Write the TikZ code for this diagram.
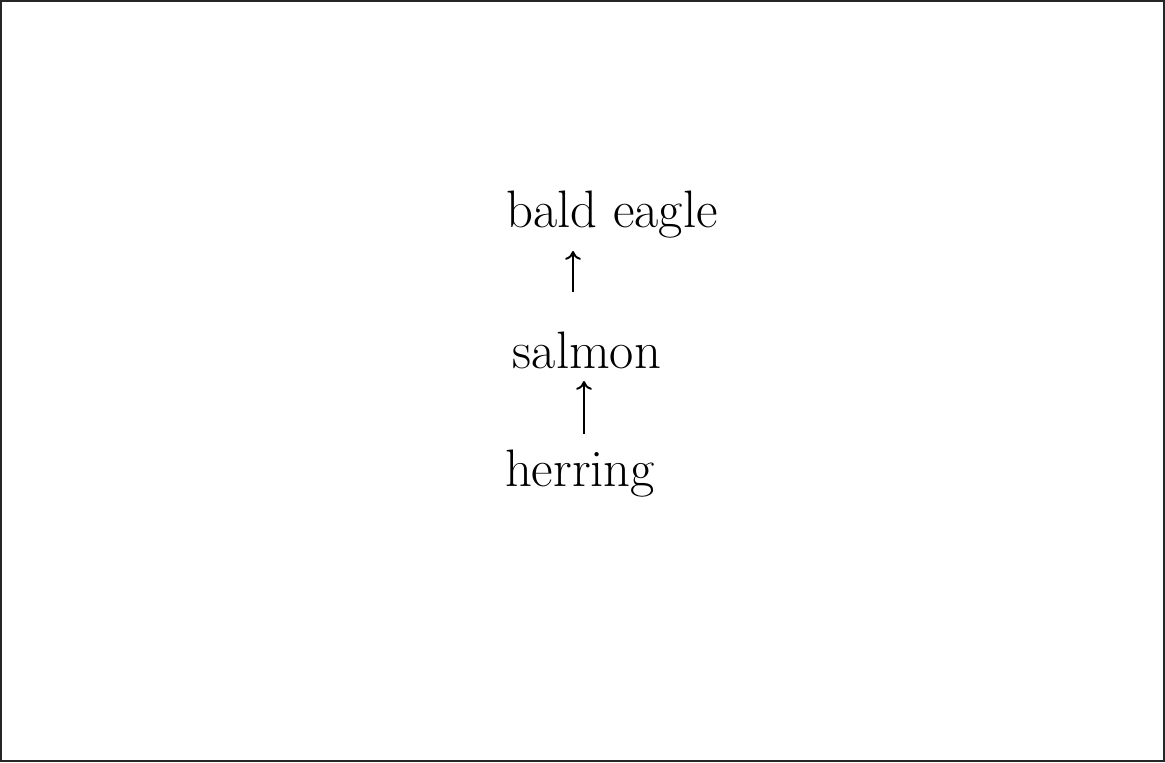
\documentclass[tikz,border=0pt]{standalone}
\usepackage{fontspec}
\setmainfont{Latin Modern Roman}
\usetikzlibrary{arrows.meta}
\begin{document}
\begin{tikzpicture}[x=0.02cm,y=-0.02cm,
  word/.style={inner sep=0pt, font=\fontsize{30}{36}\selectfont, text=black},
  uparrow/.style={draw=black, line width=1.1pt, -{To[length=5pt,width=9pt]}}]
\useasboundingbox (0,0) rectangle (1165,762);
\draw[line width=1.4pt, draw=black!85] (1,1) rectangle (1164,761);
\node[word] (eagle) at (612,215) {bald eagle};
\node[word] (salmon) at (587,350) {salmon};
\node[word] (herring) at (580,474) {herring};
\coordinate (a1s) at (573,292);
\coordinate (a1e) at (573,251);
\coordinate (a2s) at (584,434);
\coordinate (a2e) at (584,381);
\draw[uparrow] (a1s) -- (a1e);
\draw[uparrow] (a2s) -- (a2e);
\end{tikzpicture}
\end{document}
